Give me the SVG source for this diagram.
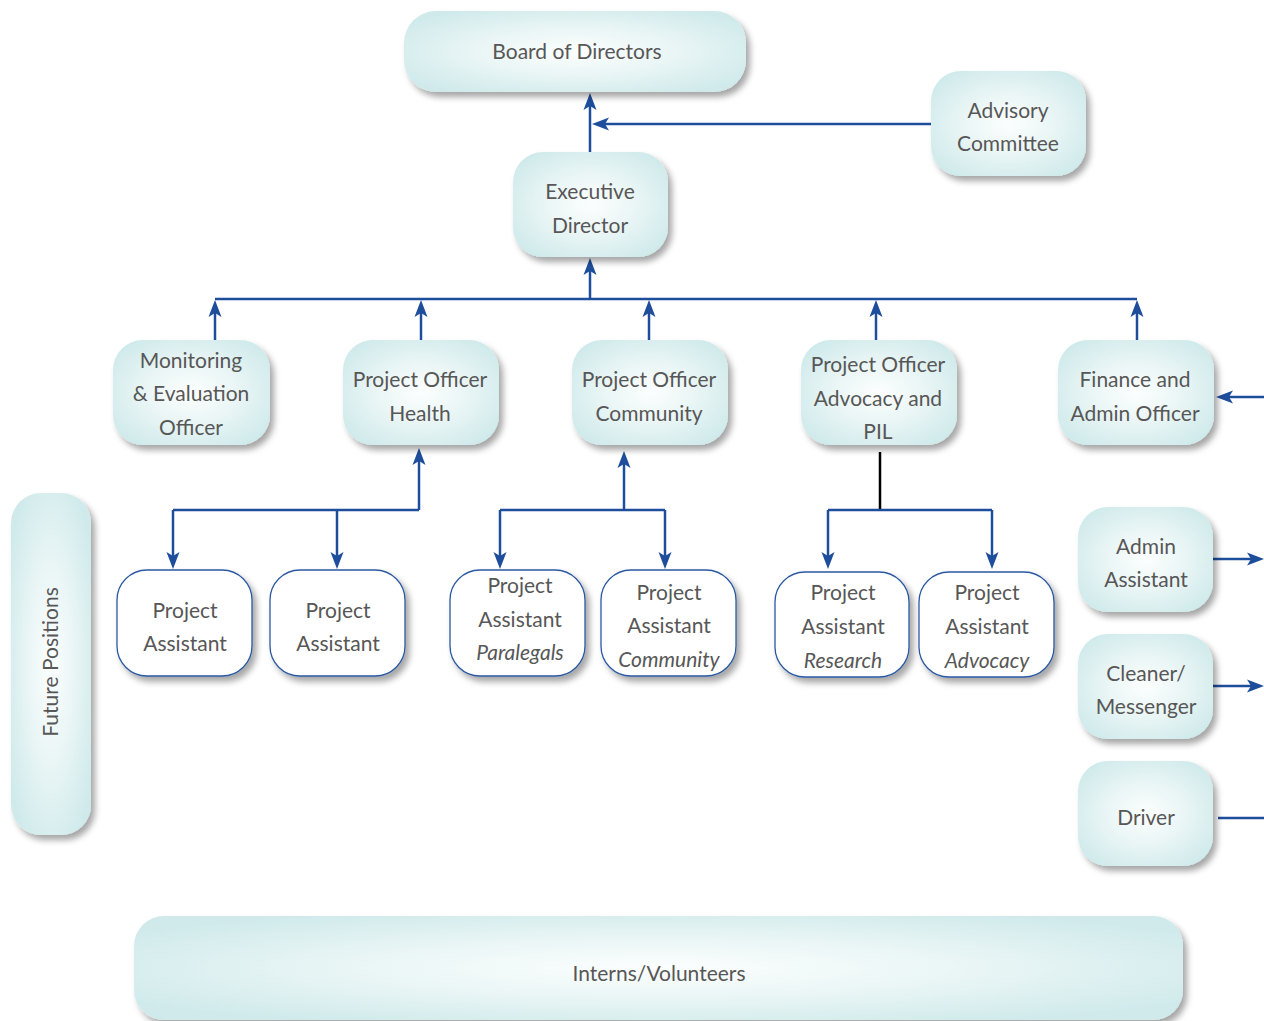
<svg xmlns="http://www.w3.org/2000/svg" xmlns:xlink="http://www.w3.org/1999/xlink" width="1264" height="1021" viewBox="0 0 1264 1021">
<defs>
<radialGradient id="g" cx="0.5" cy="0.5" r="0.6">
<stop offset="0" stop-color="#fcfefe"/>
<stop offset="0.5" stop-color="#e9f5f5"/>
<stop offset="1" stop-color="#d0eaeb"/>
</radialGradient>
<filter id="sh" x="-10%" y="-10%" width="125%" height="130%">
<feDropShadow dx="4" dy="5" stdDeviation="3" flood-color="#000" flood-opacity="0.35"/>
</filter>
<path id="ah" d="M0,0 L-6.5,-17 L0,-13 L6.5,-17 Z" fill="#1e4e9b"/>
<style>
.n{fill:url(#g);filter:url(#sh)}
.w{fill:#fff;stroke:#2b58a2;stroke-width:1.3;filter:url(#sh)}
text{font-family:Lato,"Open Sans","Liberation Sans",sans-serif;font-size:21px;fill:#575757;text-anchor:middle;dominant-baseline:central}
.i{font-style:italic}
.c{fill:none;stroke:#1e4e9b;stroke-width:2.5}
</style>
</defs>
<g id="connectors">
<path class="c" d="M590,152 V100"/>
<path class="c" d="M931,124 H600"/>
<path class="c" d="M215,299 H1137"/>
<path class="c" d="M590,299 V265"/>
<path class="c" d="M215,340 V307"/>
<path class="c" d="M421,340 V307"/>
<path class="c" d="M649,340 V307"/>
<path class="c" d="M876,340 V307"/>
<path class="c" d="M1137,340 V307"/>
<path class="c" d="M1264,397 H1224"/>
<path class="c" d="M419,510 V455"/>
<path class="c" d="M173,510 H419"/>
<path class="c" d="M173,510 V562"/>
<path class="c" d="M337,510 V562"/>
<path class="c" d="M624,510 V458"/>
<path class="c" d="M500,510 H665"/>
<path class="c" d="M500,510 V562"/>
<path class="c" d="M665,510 V562"/>
<path d="M880,452 V510" fill="none" stroke="#000" stroke-width="2.5"/>
<path class="c" d="M828,510 H992"/>
<path class="c" d="M828,510 V562"/>
<path class="c" d="M992,510 V562"/>
<path class="c" d="M1213,559 H1256"/>
<path class="c" d="M1213,686 H1256"/>
<path class="c" d="M1218,818 H1264"/>
<use xlink:href="#ah" href="#ah" transform="translate(590,93) rotate(180)"/>
<use xlink:href="#ah" href="#ah" transform="translate(592,124) rotate(90)"/>
<use xlink:href="#ah" href="#ah" transform="translate(590,258) rotate(180)"/>
<use xlink:href="#ah" href="#ah" transform="translate(215,300) rotate(180)"/>
<use xlink:href="#ah" href="#ah" transform="translate(421,300) rotate(180)"/>
<use xlink:href="#ah" href="#ah" transform="translate(649,300) rotate(180)"/>
<use xlink:href="#ah" href="#ah" transform="translate(876,300) rotate(180)"/>
<use xlink:href="#ah" href="#ah" transform="translate(1137,300) rotate(180)"/>
<use xlink:href="#ah" href="#ah" transform="translate(1216,397) rotate(90)"/>
<use xlink:href="#ah" href="#ah" transform="translate(419,448) rotate(180)"/>
<use xlink:href="#ah" href="#ah" transform="translate(624,451) rotate(180)"/>
<use xlink:href="#ah" href="#ah" transform="translate(173,569)"/>
<use xlink:href="#ah" href="#ah" transform="translate(337,569)"/>
<use xlink:href="#ah" href="#ah" transform="translate(500,569)"/>
<use xlink:href="#ah" href="#ah" transform="translate(665,569)"/>
<use xlink:href="#ah" href="#ah" transform="translate(828,569)"/>
<use xlink:href="#ah" href="#ah" transform="translate(992,569)"/>
<use xlink:href="#ah" href="#ah" transform="translate(1264,559) rotate(-90)"/>
<use xlink:href="#ah" href="#ah" transform="translate(1264,686) rotate(-90)"/>
</g>
<g id="board"><rect class="n" x="404" y="11" width="342" height="81" rx="32"/><text x="577" y="50">Board of Directors</text></g>
<g id="advisory"><rect class="n" x="931" y="71" width="155" height="105" rx="30"/><text x="1008" y="109">Advisory</text><text x="1008" y="142">Committee</text></g>
<g id="executive"><rect class="n" x="513" y="152" width="155" height="105" rx="30"/><text x="590" y="190">Executive</text><text x="590" y="224">Director</text></g>
<g id="me"><rect class="n" x="113" y="340" width="157" height="105" rx="30"/><text x="191" y="359">Monitoring</text><text x="191" y="392">&amp; Evaluation</text><text x="191" y="426">Officer</text></g>
<g id="po-health"><rect class="n" x="343" y="340" width="156" height="105" rx="30"/><text x="420" y="378">Project Officer</text><text x="420" y="412">Health</text></g>
<g id="po-community"><rect class="n" x="572" y="340" width="156" height="105" rx="30"/><text x="649" y="378">Project Officer</text><text x="649" y="412">Community</text></g>
<g id="po-advocacy"><rect class="n" x="801" y="340" width="156" height="105" rx="30"/><text x="878" y="363">Project Officer</text><text x="878" y="397">Advocacy and</text><text x="878" y="430">PIL</text></g>
<g id="finance"><rect class="n" x="1058" y="340" width="156" height="105" rx="30"/><text x="1135" y="378">Finance and</text><text x="1135" y="412">Admin Officer</text></g>
<g id="pa1"><rect class="w" x="117" y="570" width="135" height="106" rx="30"/><text x="185" y="609">Project</text><text x="185" y="642">Assistant</text></g>
<g id="pa2"><rect class="w" x="270" y="570" width="135" height="106" rx="30"/><text x="338" y="609">Project</text><text x="338" y="642">Assistant</text></g>
<g id="pa-paralegals"><rect class="w" x="450" y="570" width="135" height="106" rx="30"/><text x="520" y="584">Project</text><text x="520" y="618">Assistant</text><text class="i" x="520" y="651">Paralegals</text></g>
<g id="pa-community"><rect class="w" x="601" y="570" width="135" height="106" rx="30"/><text x="669" y="591">Project</text><text x="669" y="624">Assistant</text><text class="i" x="669" y="658">Community</text></g>
<g id="pa-research"><rect class="w" x="775" y="572" width="134" height="105" rx="30"/><text x="843" y="591">Project</text><text x="843" y="625">Assistant</text><text class="i" x="843" y="659">Research</text></g>
<g id="pa-advocacy"><rect class="w" x="919" y="572" width="135" height="105" rx="30"/><text x="987" y="591">Project</text><text x="987" y="625">Assistant</text><text class="i" x="987" y="659">Advocacy</text></g>
<g id="admin-assistant"><rect class="n" x="1078" y="507" width="135" height="105" rx="30"/><text x="1146" y="545">Admin</text><text x="1146" y="578">Assistant</text></g>
<g id="cleaner"><rect class="n" x="1078" y="634" width="135" height="105" rx="30"/><text x="1146" y="672">Cleaner/</text><text x="1146" y="705">Messenger</text></g>
<g id="driver"><rect class="n" x="1078" y="761" width="135" height="105" rx="30"/><text x="1146" y="816">Driver</text></g>
<g id="future"><rect class="n" x="11" y="493" width="80" height="342" rx="30"/><text x="49" y="662" transform="rotate(-90 49 662)">Future Positions</text></g>
<g id="interns"><rect class="n" x="134" y="916" width="1049" height="104" rx="30"/><text x="659" y="972">Interns/Volunteers</text></g>
</svg>
